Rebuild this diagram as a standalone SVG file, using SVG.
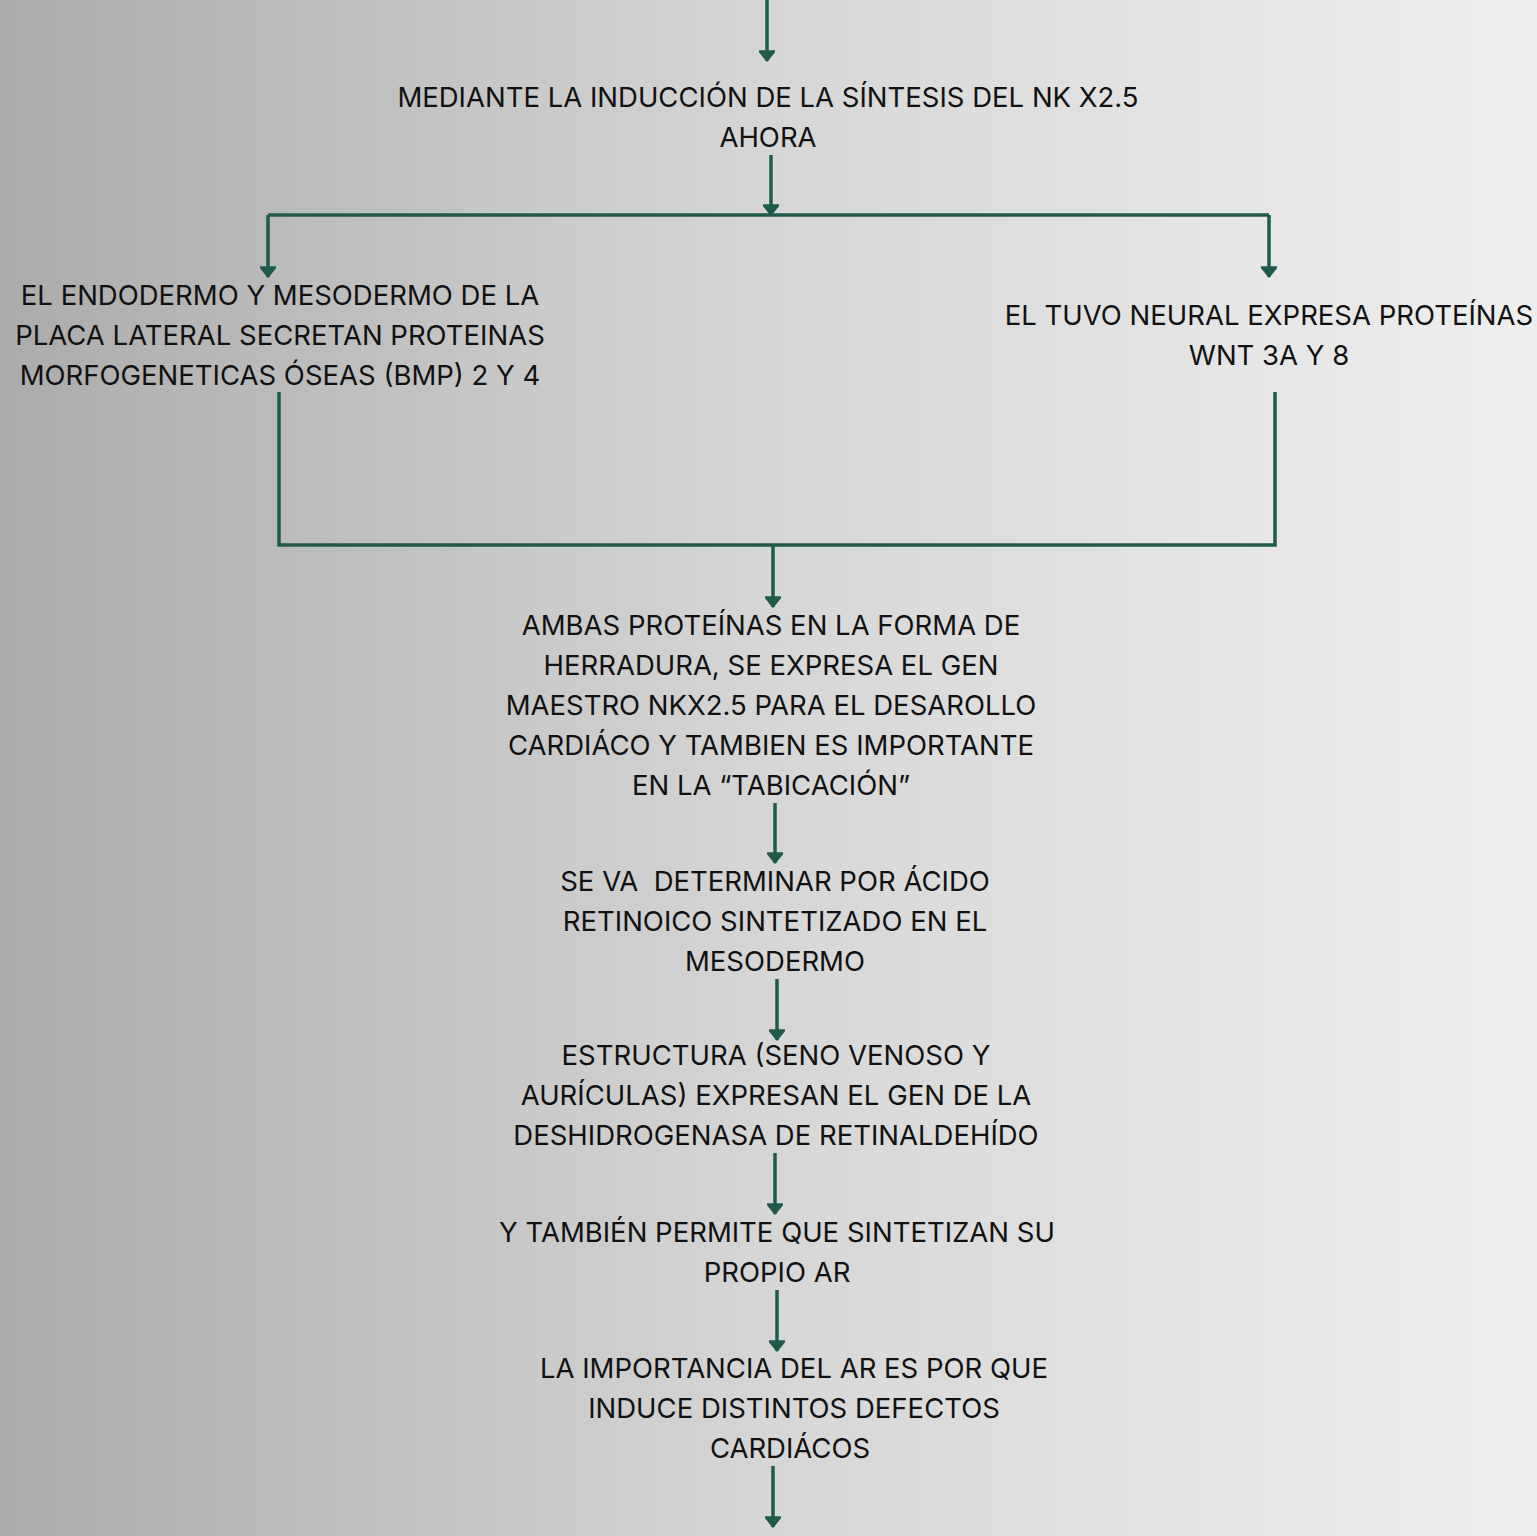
<svg xmlns="http://www.w3.org/2000/svg" width="1537" height="1536" viewBox="0 0 1537 1536">
<defs>
<linearGradient id="bg" x1="0" y1="0" x2="1" y2="0">
<stop offset="0" stop-color="#ababab"/>
<stop offset="0.5" stop-color="#d6d6d6"/>
<stop offset="1" stop-color="#efefef"/>
</linearGradient>
<marker id="ah" viewBox="0 0 12 16" refX="11" refY="8" markerWidth="12" markerHeight="16" markerUnits="userSpaceOnUse" orient="auto">
<path d="M1,0 L11,8 L1,16 Z" fill="#1f5a4b" stroke="#1f5a4b" stroke-width="1.5" stroke-linejoin="round"/>
</marker>
<style>
.t{font-family:Inter,"Noto Sans","Liberation Sans",sans-serif;font-size:27.5px;fill:#111;text-anchor:middle}
.c{fill:none;stroke:#1f5a4b;stroke-width:3.5}
.a{marker-end:url(#ah)}
</style>
</defs>
<rect width="1537" height="1536" fill="url(#bg)"/>
<g id="connectors">
<path class="c a" d="M767,0 V61"/>
<path class="c a" d="M771,155 V215"/>
<path class="c" d="M268,215 H1269"/>
<path class="c a" d="M268,215 V277"/>
<path class="c a" d="M1269,215 V277"/>
<path class="c" d="M279,392 V545 H1275 V392"/>
<path class="c a" d="M773,545 V607"/>
<path class="c a" d="M775,803 V863"/>
<path class="c a" d="M777,979 V1040"/>
<path class="c a" d="M775,1153 V1214"/>
<path class="c a" d="M777,1290 V1351"/>
<path class="c a" d="M773,1466 V1527"/>
</g>
<g id="n1"><text class="t" x="768" y="107">MEDIANTE LA INDUCCIÓN DE LA SÍNTESIS DEL NK X2.5</text><text class="t" x="768" y="147">AHORA</text></g>
<g id="n2"><text class="t" x="280" y="305">EL ENDODERMO Y MESODERMO DE LA</text><text class="t" x="280" y="345">PLACA LATERAL SECRETAN PROTEINAS</text><text class="t" x="280" y="385">MORFOGENETICAS ÓSEAS (BMP) 2 Y 4</text></g>
<g id="n3"><text class="t" x="1269" y="325">EL TUVO NEURAL EXPRESA PROTEÍNAS</text><text class="t" x="1269" y="365">WNT 3A Y 8</text></g>
<g id="n4"><text class="t" x="771" y="635">AMBAS PROTEÍNAS EN LA FORMA DE</text><text class="t" x="771" y="675">HERRADURA, SE EXPRESA EL GEN</text><text class="t" x="771" y="715">MAESTRO NKX2.5 PARA EL DESAROLLO</text><text class="t" x="771" y="755">CARDIÁCO Y TAMBIEN ES IMPORTANTE</text><text class="t" x="771" y="795">EN LA “TABICACIÓN”</text></g>
<g id="n5"><text class="t" x="775" y="891" xml:space="preserve">SE VA  DETERMINAR POR ÁCIDO</text><text class="t" x="775" y="931">RETINOICO SINTETIZADO EN EL</text><text class="t" x="775" y="971">MESODERMO</text></g>
<g id="n6"><text class="t" x="776" y="1065">ESTRUCTURA (SENO VENOSO Y</text><text class="t" x="776" y="1105">AURÍCULAS) EXPRESAN EL GEN DE LA</text><text class="t" x="776" y="1145">DESHIDROGENASA DE RETINALDEHÍDO</text></g>
<g id="n7"><text class="t" x="777" y="1242">Y TAMBIÉN PERMITE QUE SINTETIZAN SU</text><text class="t" x="777" y="1282">PROPIO AR</text></g>
<g id="n8"><text class="t" x="794" y="1378">LA IMPORTANCIA DEL AR ES POR QUE</text><text class="t" x="794" y="1418">INDUCE DISTINTOS DEFECTOS</text><text class="t" x="790" y="1458">CARDIÁCOS</text></g>
</svg>
